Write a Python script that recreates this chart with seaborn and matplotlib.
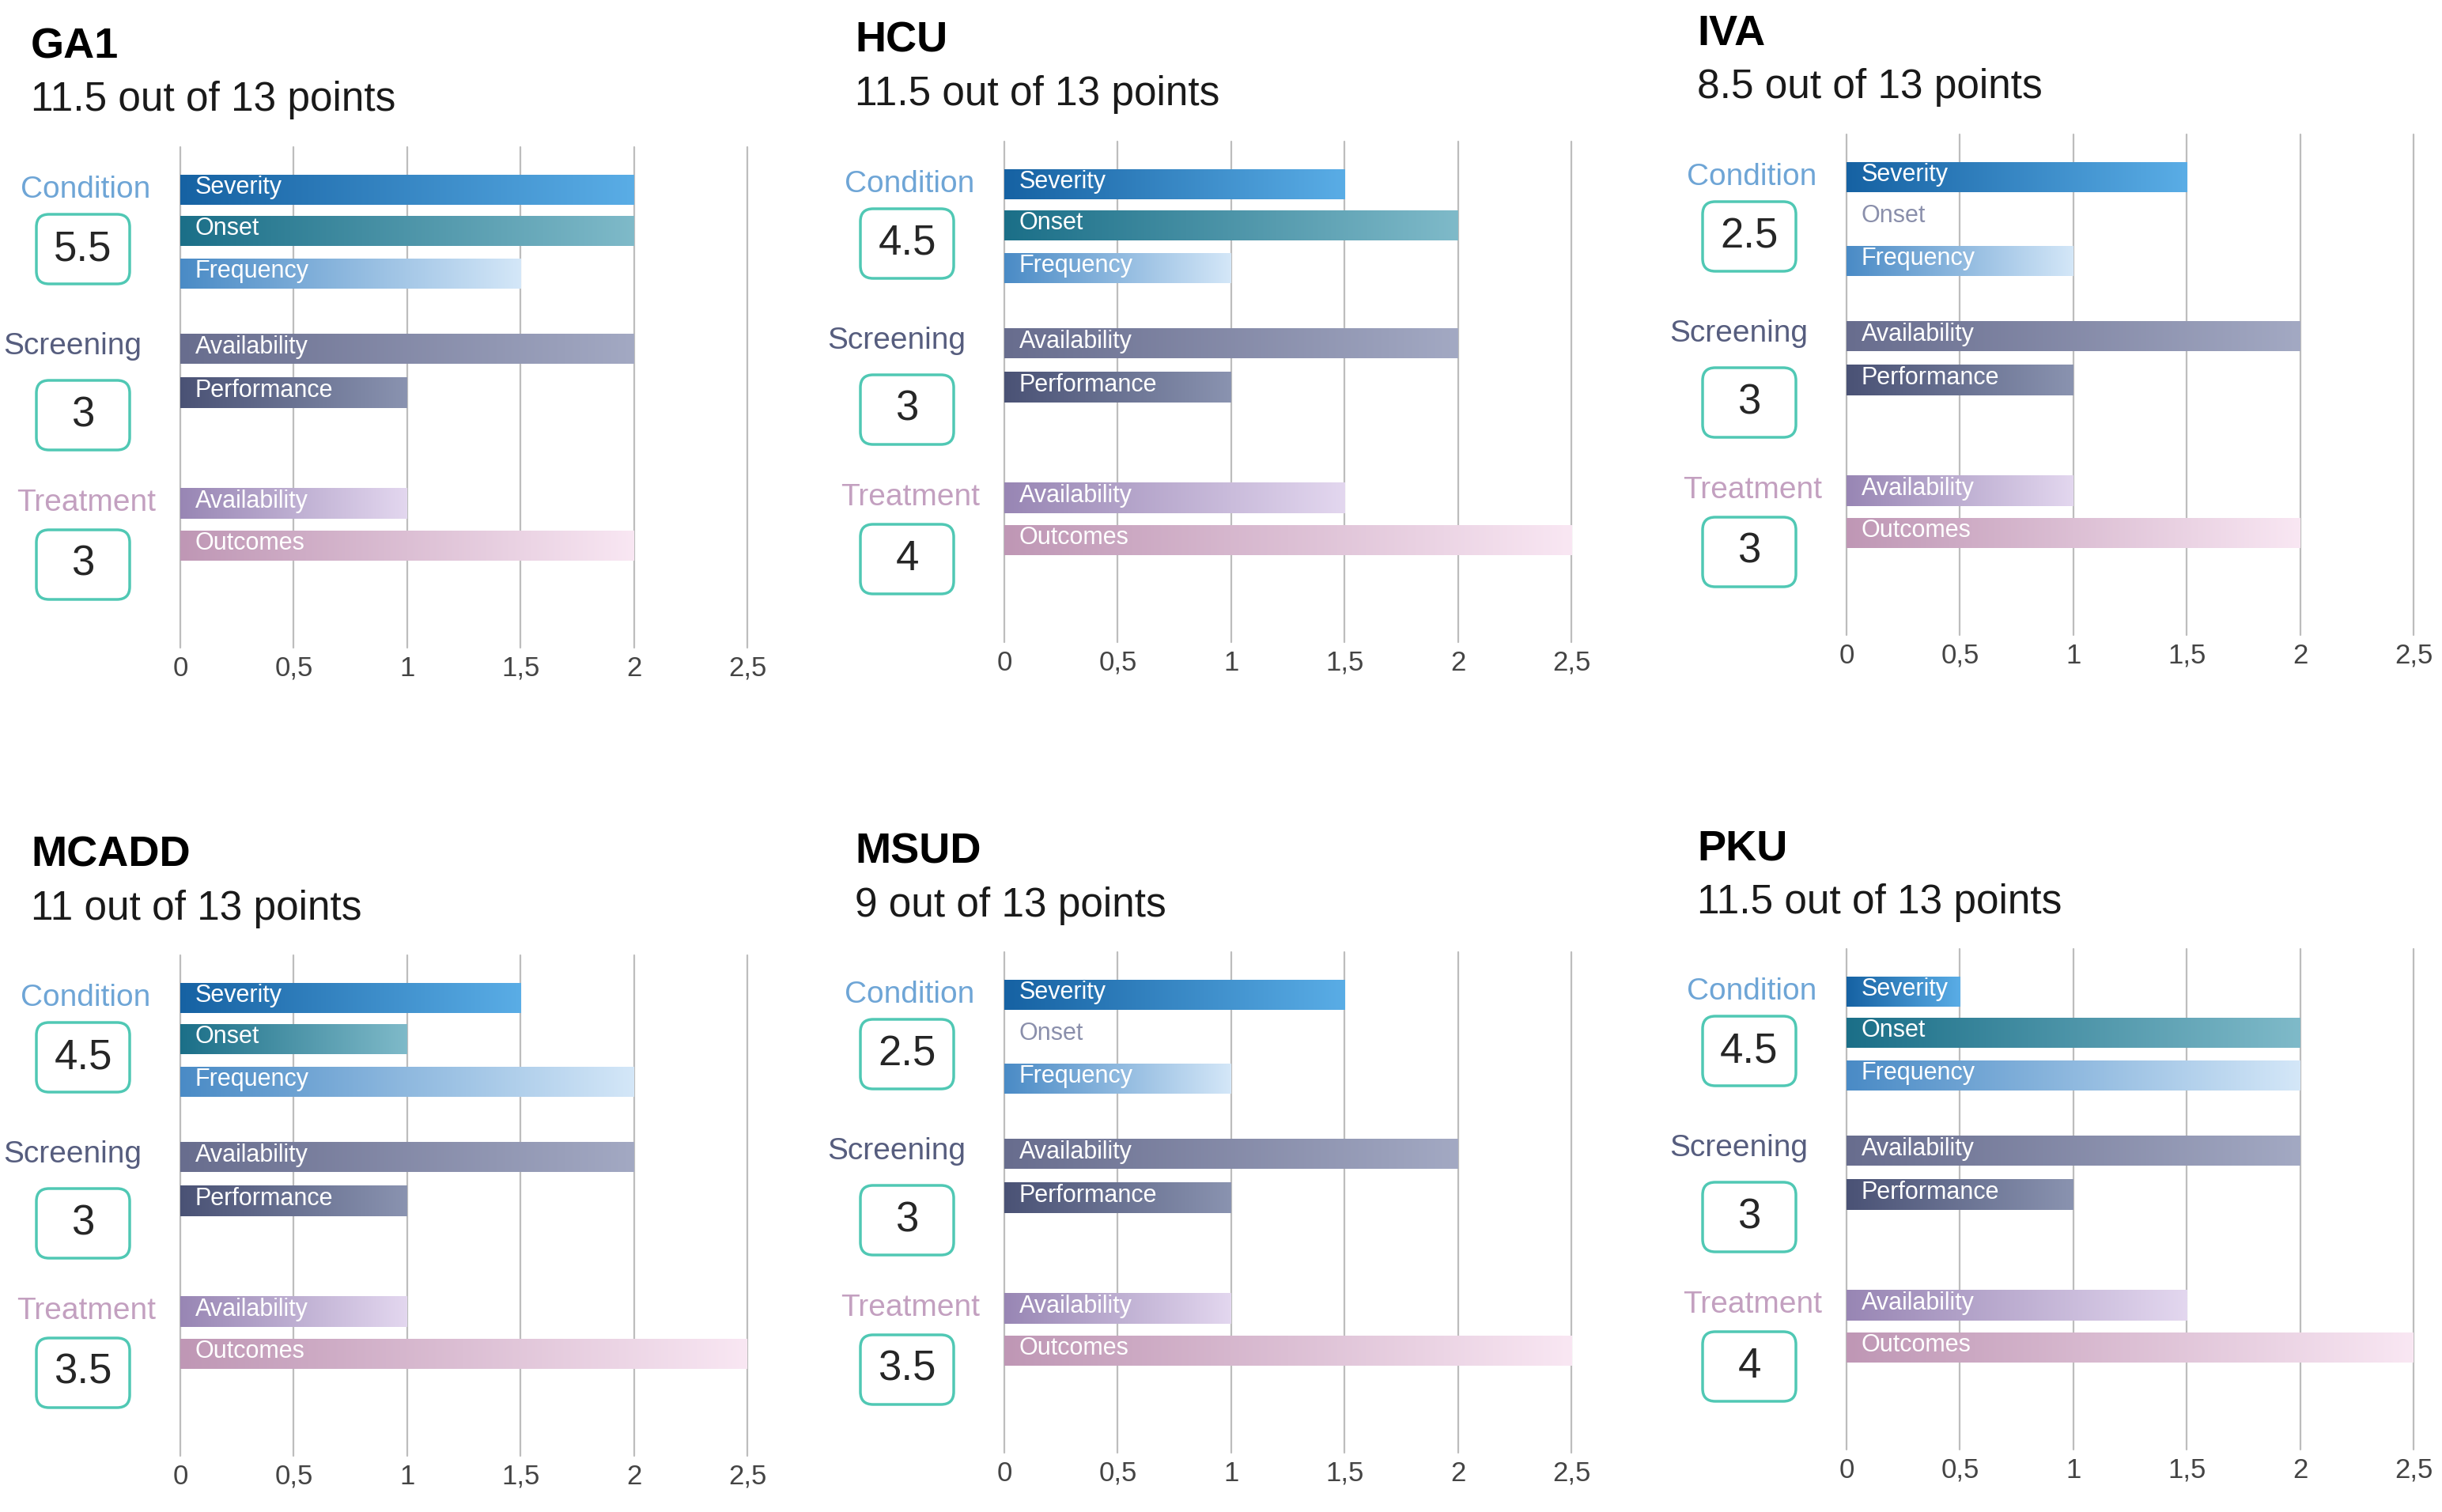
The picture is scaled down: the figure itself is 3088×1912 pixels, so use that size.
import numpy as np
import pandas as pd
import seaborn as sns
import matplotlib.pyplot as plt
from matplotlib.colors import LinearSegmentedColormap
from matplotlib.patches import FancyBboxPatch

# Scores per disease
diseases = ['GA1', 'HCU', 'IVA', 'MCADD', 'MSUD', 'PKU']
items = ['Severity', 'Onset', 'Frequency', 'Availability', 'Performance', 'Availability', 'Outcomes']
groups = ['Condition', 'Screening', 'Treatment']
group_of_item = [0, 0, 0, 1, 1, 2, 2]

severity = [2.0, 1.5, 1.5, 1.5, 1.5, 0.5]
onset = [2.0, 2.0, 0.0, 1.0, 0.0, 2.0]
frequency = [1.5, 1.0, 1.0, 2.0, 1.0, 2.0]
scr_availability = [2.0, 2.0, 2.0, 2.0, 2.0, 2.0]
performance = [1.0, 1.0, 1.0, 1.0, 1.0, 1.0]
trt_availability = [1.0, 1.5, 1.0, 1.0, 1.0, 1.5]
outcomes = [2.0, 2.5, 2.0, 2.5, 2.5, 2.5]
max_points = 13

ticks = [0, 0.5, 1, 1.5, 2, 2.5]
tick_labels = ['0', '0,5', '1', '1,5', '2', '2,5']

# Styling
bar_colors = [('#1662a3', '#5aade6'), ('#1b6f88', '#7fbac9'), ('#4a8bc6', '#d4e7f8'),
              ('#686d8e', '#a3a9c3'), ('#4a5275', '#8a93b0'), ('#9886b4', '#e3d7ef'),
              ('#bf97b5', '#f9e7f3')]
group_colors = ['#6ea5d6', '#565d7e', '#c3a0c0']
box_edge = '#50c8b4'
slot = [0, 0.97, 1.98, 3.76, 4.79, 7.41, 8.41]

W, H = 3088, 1912
col_x0 = [228, 1270, 2335]
panel_dy = [0, -7, -16, 1022, 1018, 1014]
span = 717

sns.set_theme(style='white')
plt.rcParams['font.family'] = ['Liberation Sans', 'DejaVu Sans']

fig = plt.figure(figsize=(W / 100, H / 100), dpi=100)


def fx(px):
    return px / 100


def fy(py):
    return (H - py) / 100


for k, name in enumerate(diseases):
    x0 = col_x0[k % 3]
    dy = panel_dy[k]
    vals = [severity[k], onset[k], frequency[k], scr_availability[k],
            performance[k], trt_availability[k], outcomes[k]]
    sums = [sum(v for v, g in zip(vals, group_of_item) if g == j) for j in range(3)]

    ax = fig.add_axes([x0 / W, 1 - (819 + dy) / H, span / W, 633 / H])
    df = pd.DataFrame({'pos': slot, 'score': vals})
    sns.barplot(data=df, x='score', y='pos', orient='h', native_scale=True,
                width=0.74, color='gray', errorbar=None, ax=ax)

    # swap the flat fill for a left-to-right gradient
    for patch in ax.patches:
        x, y = patch.get_x(), patch.get_y()
        w, h = patch.get_width(), patch.get_height()
        if w <= 0:
            patch.set_visible(False)
            continue
        i = int(np.argmin(np.abs(np.array(slot) - (y + h / 2))))
        cmap = LinearSegmentedColormap.from_list('g', bar_colors[i])
        im = ax.imshow(np.linspace(0, 1, 256).reshape(1, -1), cmap=cmap,
                       extent=[x, x + w, y + h, y], aspect='auto', zorder=2)
        im.set_clip_path(patch)
        patch.set_facecolor('none')
        patch.set_edgecolor('none')

    for i, lab in enumerate(items):
        ax.text(0.065, slot[i] - 0.05, lab, ha='left', va='center', fontsize=22,
                color='white' if vals[i] > 0 else '#8a8fab', zorder=3)

    ax.set_xlim(0, 2.5)
    ax.set_ylim(10.82, -1.01)
    ax.set_xticks(ticks)
    ax.set_xticklabels(tick_labels, fontsize=25, color='#444444')
    ax.set_yticks([])
    ax.set_xlabel('')
    ax.set_ylabel('')
    for s in ax.spines.values():
        s.set_visible(False)
    ax.tick_params(axis='x', length=0, pad=7)
    ax.xaxis.grid(True, color='#bdbdbd', linewidth=1.6)
    ax.set_axisbelow(True)
    for gl in ax.get_xgridlines():
        gl.set_clip_on(False)

    # panel title and total
    fig.text(fx(x0 - 189), fy(59 + dy), name, transform=fig.dpi_scale_trans,
             fontsize=39, fontweight='bold', ha='left', va='center', color='black')
    fig.text(fx(x0 - 189), fy(127 + dy), f'{sum(vals):g} out of {max_points} points',
             transform=fig.dpi_scale_trans, fontsize=37, ha='left', va='center',
             color='#1a1a1a')

    # group labels and score boxes
    lab_x = [-120, -136, -119]
    lab_y = [240, 438, 636]
    box_y = [315, 525, 714]
    for j in range(3):
        fig.text(fx(x0 + lab_x[j]), fy(lab_y[j] + dy), groups[j], transform=fig.dpi_scale_trans,
                 fontsize=28, ha='center', va='center', color=group_colors[j])
        cx, cy = x0 - 123, box_y[j] + dy
        box = FancyBboxPatch((fx(cx - 59), fy(cy + 44)), 1.18, 0.88,
                             boxstyle='round,pad=0,rounding_size=0.16',
                             transform=fig.dpi_scale_trans, facecolor='white',
                             edgecolor=box_edge, linewidth=2.5)
        fig.add_artist(box)
        fig.text(fx(cx), fy(cy), f'{sums[j]:g}', transform=fig.dpi_scale_trans,
                 fontsize=38, ha='center', va='center', color='#262626')

fig.savefig('out.png', dpi=100, facecolor='white')
